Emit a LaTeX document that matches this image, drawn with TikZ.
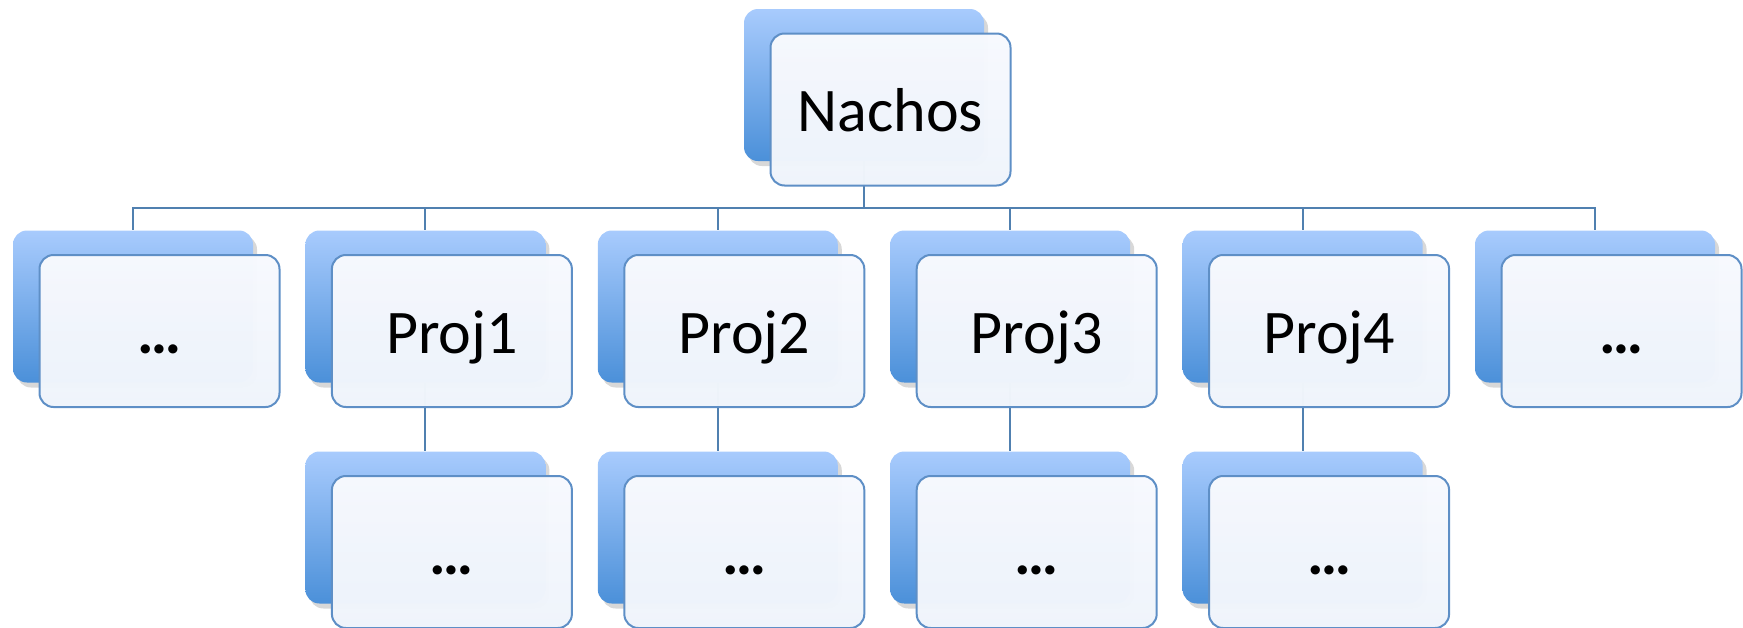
\documentclass[tikz,border=0pt]{standalone}
\usepackage{fontspec}
\setmainfont{Carlito}
\usetikzlibrary{shadows,calc}
\definecolor{backtop}{HTML}{A8CBFD}
\definecolor{backbot}{HTML}{4B90D9}
\definecolor{fronttop}{HTML}{F7F9FE}
\definecolor{frontbot}{HTML}{EFF4FB}
\definecolor{frontline}{HTML}{5E8FC6}
\definecolor{connline}{HTML}{5080B0}
\tikzset{
  backbox/.style={rectangle, rounded corners=14pt, minimum width=240pt, minimum height=152pt,
    inner sep=0pt, top color=backtop, bottom color=backbot, draw=none,
    drop shadow={shadow xshift=4pt, shadow yshift=-5pt, opacity=0.22, fill=black!70}},
  frontbox/.style={rectangle, rounded corners=14pt, minimum width=240pt, minimum height=152pt,
    inner sep=0pt, top color=fronttop, bottom color=frontbot, fill opacity=0.985, text opacity=1,
    draw=frontline, line width=2pt, text height=44pt, text depth=0pt,
    font=\fontsize{62}{74}\selectfont},
  dots/.style={font=\fontsize{62}{74}\selectfont\bfseries},
  conn/.style={draw=connline, line width=2pt},
}
\begin{document}
\begin{tikzpicture}[x=1pt,y=-1pt]
\useasboundingbox (0,0) rectangle (1743,627);
\coordinate (bus) at (0,208);
% back boxes
\node[backbox] (btop) at (864,85) {};
\foreach \i/\x in {1/133,2/425.4,3/717.8,4/1010.2,5/1302.6,6/1595}{
  \node[backbox] (b\i) at (\x,306.5) {};
}
\foreach \i/\x in {2/425.4,3/717.8,4/1010.2,5/1302.6}{
  \node[backbox] (c\i) at (\x,527.5) {};
}
% connectors
\foreach \i in {1,...,6}{
  \draw[conn] (btop.south) -- (btop.south |- bus) -| (b\i.north);
}
\foreach \i in {2,...,5}{
  \draw[conn] (b\i.south) -- (c\i.north);
}
% front boxes
\node[frontbox] (ftop) at (890.5,109.5) {Nachos};
\node[frontbox,dots] (f1) at (159.5,331) {…};
\node[frontbox] (f2) at (451.9,331) {Proj1};
\node[frontbox] (f3) at (744.3,331) {Proj2};
\node[frontbox] (f4) at (1036.7,331) {Proj3};
\node[frontbox] (f5) at (1329.1,331) {Proj4};
\node[frontbox,dots] (f6) at (1621.5,331) {…};
\node[frontbox,dots] (g2) at (451.9,552) {…};
\node[frontbox,dots] (g3) at (744.3,552) {…};
\node[frontbox,dots] (g4) at (1036.7,552) {…};
\node[frontbox,dots] (g5) at (1329.1,552) {…};
\end{tikzpicture}
\end{document}
